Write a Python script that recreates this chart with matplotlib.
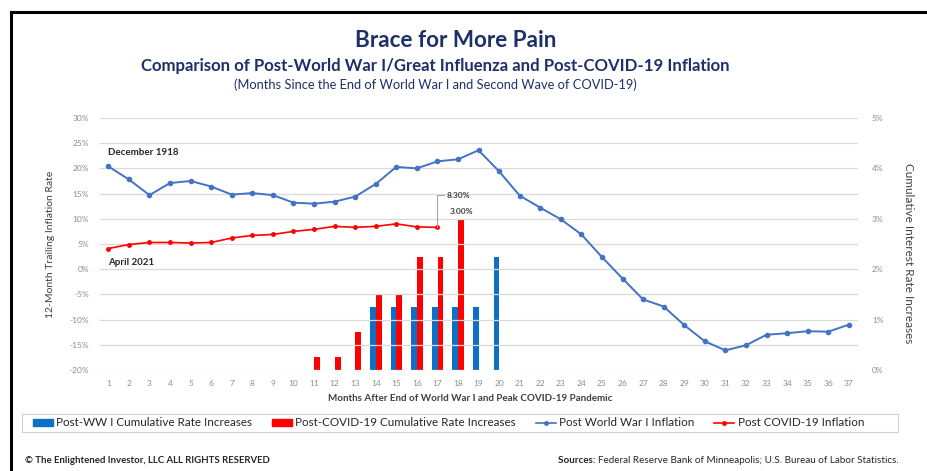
import matplotlib
matplotlib.use("Agg")
from matplotlib import pyplot as plt
from matplotlib.lines import Line2D
from matplotlib.patches import Patch, Rectangle
from matplotlib.ticker import FuncFormatter
import numpy as np

plt.rcParams['font.family'] = ['Lato', 'DejaVu Sans']

months = list(range(1, 38))

# 12-month trailing inflation, %
ww1_inflation = [20.4, 17.8, 14.7, 17.1, 17.5, 16.4, 14.8, 15.1, 14.7, 13.2,
                 13.0, 13.4, 14.4, 16.9, 20.3, 20.0, 21.4, 21.8, 23.6, 19.4,
                 14.6, 12.2, 9.9, 6.9, 2.4, -1.85, -6.0, -7.4, -11.1, -14.3,
                 -16.1, -15.1, -13.0, -12.7, -12.3, -12.4, -11.0]
covid_inflation = [4.1, 4.9, 5.3, 5.3, 5.2, 5.3, 6.2, 6.7, 6.9, 7.5,
                   7.9, 8.5, 8.3, 8.5, 9.0, 8.4, 8.3]

# cumulative rate increases, %
ww1_rate_months = [14, 15, 16, 17, 18, 19, 20]
ww1_rates = [1.25, 1.25, 1.25, 1.25, 1.25, 1.25, 2.25]
covid_rate_months = [11, 12, 13, 14, 15, 16, 17, 18]
covid_rates = [0.25, 0.25, 0.75, 1.5, 1.5, 2.25, 2.25, 3.0]

left_ticks = list(range(-20, 31, 5))
right_ticks = [0, 1, 2, 3, 4, 5]

BLUE_BAR = "#0F6FC6"
RED = "#FF0000"
BLUE_LINE = "#4472C4"
NAVY = "#1F2F6B"
TICK_GRAY = "#8C8C8C"

fig = plt.figure(figsize=(9.27, 4.71), dpi=100)
ax = fig.add_axes([0.108, 0.2144, 0.8176, 0.5351])
ax2 = ax.twinx()

ax.set_zorder(ax2.get_zorder() + 1)
ax.patch.set_visible(False)

# bars on the right axis
w = 0.28
ax2.bar(np.array(ww1_rate_months) - 0.13, ww1_rates, width=w, color=BLUE_BAR)
ax2.bar(np.array(covid_rate_months) + 0.15, covid_rates, width=w, color=RED)
ax2.set_ylim(0, 5)
ax2.set_yticks(right_ticks)
ax2.yaxis.set_major_formatter(FuncFormatter(lambda v, p: f"{v:.0f}%"))

# inflation lines on the left axis
ax.plot(months, ww1_inflation, color=BLUE_LINE, lw=1.4, marker="o", ms=3)
ax.plot(months[:len(covid_inflation)], covid_inflation, color=RED, lw=1.2,
        marker="o", ms=2.5)
ax.set_ylim(-20, 30)
ax.set_yticks(left_ticks)
ax.yaxis.set_major_formatter(FuncFormatter(lambda v, p: f"{v:.0f}%"))
ax.set_xlim(0.6, 37.45)
ax.set_xticks(months)

ax2.grid(False)
for y in left_ticks:
    ax.axhline(y, color="#D9D9D9", lw=0.9, zorder=0)

for a in (ax, ax2):
    for s in a.spines.values():
        s.set_visible(False)
    a.tick_params(length=0, labelsize=6, labelcolor=TICK_GRAY)
ax.tick_params(axis="y", pad=8)
ax.tick_params(axis="x", pad=7)
ax2.tick_params(axis="y", pad=10)

ax.set_ylabel("12-Month Trailing Inflation Rate", fontsize=7.5,
              color="#404040", labelpad=10)
ax2.set_ylabel("Cumulative Interest Rate Increases", fontsize=8.5,
               color="#404040", rotation=-90, va="center")
ax2.yaxis.set_label_coords(1.066, 0.464)
ax.set_xlabel("Months After End of World War I and Peak COVID-19 Pandemic",
              fontsize=7.1, fontweight="bold", color="#404040")
ax.xaxis.set_label_coords(0.488, -0.095)

# callouts
ax.text(1, 22.3, "December 1918", fontsize=7, fontweight="bold",
        color="#262626", va="bottom")
ax.text(1, 0.5, "April 2021", fontsize=7, fontweight="bold",
        color="#262626", va="bottom")
ax.plot([17, 17, 17.3], [covid_inflation[16], 14.7, 14.7], color="#A6A6A6",
        lw=0.8)
ax.text(17.45, 14.7, f"{covid_inflation[16]:.2f}%", fontsize=6,
        fontweight="bold", color="#404040", va="center")
ax2.text(18.15, covid_rates[-1] + 0.08, f"{covid_rates[-1]:.2f}%", fontsize=6,
         fontweight="bold", color="#404040", ha="center", va="bottom")

# titles
fig.text(0.492, 0.915, "Brace for More Pain", fontsize=16.2, fontweight="bold",
         color=NAVY, ha="center", va="center")
fig.text(0.470, 0.860, "Comparison of Post-World War I/Great Influenza and "
         "Post-COVID-19 Inflation", fontsize=12.1, fontweight="bold",
         color=NAVY, ha="center", va="center")
fig.text(0.470, 0.820, "(Months Since the End of World War I and Second Wave "
         "of COVID-19)", fontsize=9.3, color=NAVY, ha="center", va="center")

handles = [
    Patch(color=BLUE_BAR, label="Post-WW I Cumulative Rate Increases"),
    Patch(color=RED, label="Post-COVID-19 Cumulative Rate Increases"),
    Line2D([], [], color=BLUE_LINE, marker="o", ms=2.5, lw=1.2,
           label="Post World War I Inflation"),
    Line2D([], [], color=RED, marker="o", ms=2.5, lw=1.2,
           label="Post COVID-19 Inflation"),
]
leg = fig.legend(handles=handles, loc="center", ncol=4,
                 bbox_to_anchor=(448.5 / 927, 1 - 423 / 471),
                 fontsize=8.4, frameon=False, handlelength=1.7,
                 handleheight=0.6, handletextpad=0.3, columnspacing=1.7)
for t in leg.get_texts():
    t.set_color("#262626")
# legend box
fig.add_artist(Rectangle((22 / 927, 1 - 432 / 471), 876 / 927, 18 / 471,
                         transform=fig.transFigure, fill=False,
                         edgecolor="#D0D0D0", lw=0.8))

fig.text(0.027, 0.022, "\u00a9 The Enlightened Investor, LLC ALL RIGHTS RESERVED",
         fontsize=6.9, fontweight="bold", color="#262626", va="center")
src = fig.text(0.969, 0.022, "Federal Reserve Bank of Minneapolis; U.S. Bureau "
               "of Labor Statistics.", fontsize=7.1, color="#262626",
               ha="right", va="center")
ax.annotate("Sources: ", xy=(0, 0.5), xycoords=src, fontsize=7.1,
            fontweight="bold", color="#262626", ha="right", va="center",
            annotation_clip=False)

# frame around the page
fig.add_artist(Line2D([11 / 927, 1.0], [1 - 12 / 471, 1 - 12 / 471],
                      color="black", lw=2.2, transform=fig.transFigure))
fig.add_artist(Line2D([11 / 927, 11 / 927], [0, 1 - 12 / 471],
                      color="black", lw=2.2, transform=fig.transFigure))

fig.savefig("out.png", dpi=100)
